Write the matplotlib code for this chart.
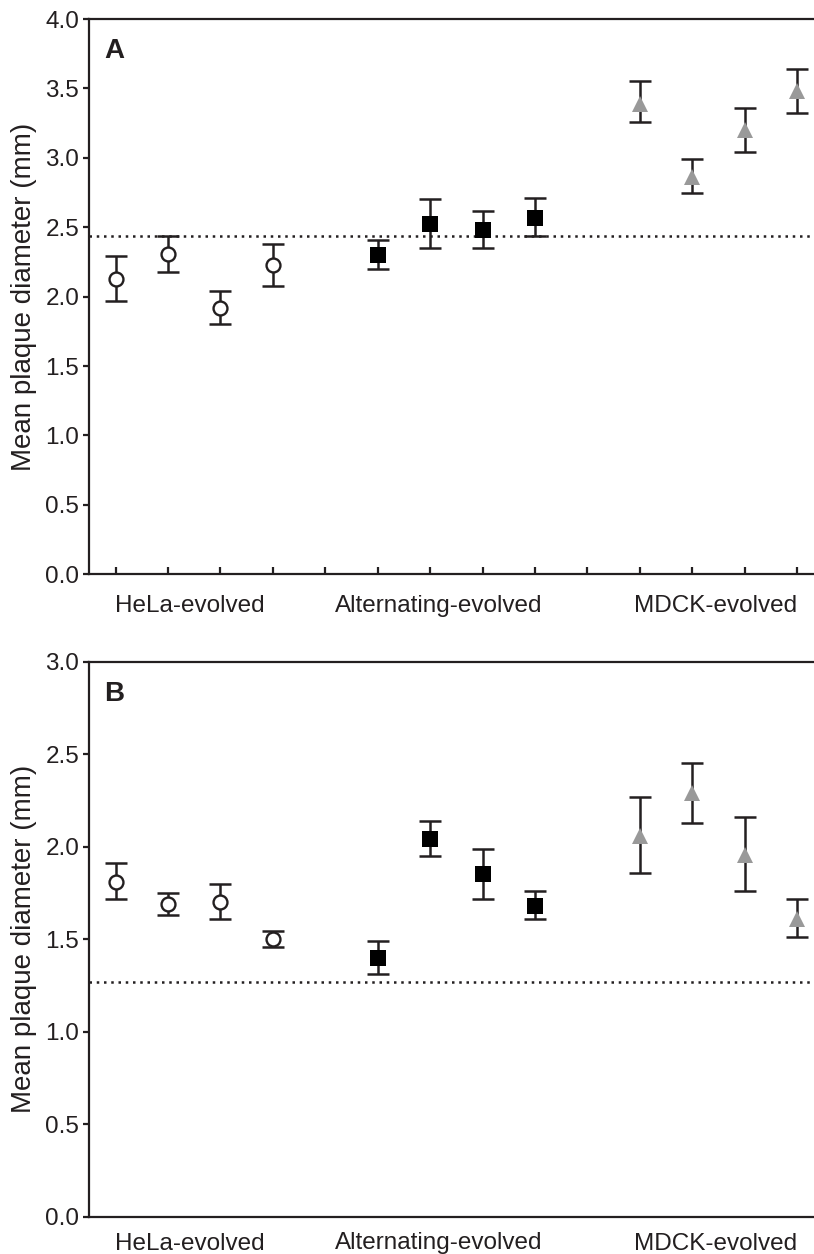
import matplotlib
matplotlib.use("Agg")
import matplotlib.pyplot as plt
import numpy as np

plt.rcParams['font.family'] = ['Liberation Sans', 'DejaVu Sans']

# ---------------- data ----------------
groups = ["HeLa-evolved", "Alternating-evolved", "MDCK-evolved"]
hela_pos = [1, 2, 3, 4]
alt_pos = [6, 7, 8, 9]
mdck_pos = [11, 12, 13, 14]

# Panel A
a_hela_mean = [2.13, 2.31, 1.92, 2.23]
a_hela_hi = [2.29, 2.44, 2.04, 2.38]
a_hela_lo = [1.97, 2.18, 1.80, 2.08]
a_alt_mean = [2.30, 2.52, 2.48, 2.57]
a_alt_hi = [2.41, 2.70, 2.62, 2.71]
a_alt_lo = [2.20, 2.35, 2.35, 2.44]
a_mdck_mean = [3.39, 2.86, 3.20, 3.48]
a_mdck_hi = [3.55, 2.99, 3.36, 3.64]
a_mdck_lo = [3.26, 2.75, 3.04, 3.32]
a_ref = 2.435

# Panel B
b_hela_mean = [1.81, 1.69, 1.70, 1.50]
b_hela_hi = [1.91, 1.75, 1.80, 1.545]
b_hela_lo = [1.72, 1.63, 1.61, 1.46]
b_alt_mean = [1.40, 2.04, 1.85, 1.68]
b_alt_hi = [1.49, 2.14, 1.99, 1.76]
b_alt_lo = [1.31, 1.95, 1.72, 1.61]
b_mdck_mean = [2.06, 2.29, 1.955, 1.61]
b_mdck_hi = [2.27, 2.45, 2.16, 1.72]
b_mdck_lo = [1.86, 2.13, 1.76, 1.51]
b_ref = 1.27

yticks_a = [0.0, 0.5, 1.0, 1.5, 2.0, 2.5, 3.0, 3.5, 4.0]
yticks_b = [0.0, 0.5, 1.0, 1.5, 2.0, 2.5, 3.0]
group_label_x = [2.42, 7.16, 12.45]

# ---------------- drawing ----------------
W, H = 814, 1254
fig = plt.figure(figsize=(W / 100, H / 100), dpi=100)
ink = '#231f20'
FS = 17.5

def px_axes(left, top, right, bottom):
    return fig.add_axes([left / W, 1 - bottom / H, (right - left) / W, (bottom - top) / H])

axA = px_axes(89, 19, 814, 574.3)
axB = px_axes(89, 661.7, 814, 1216.7)

def draw_series(ax, pos, mean, hi, lo, marker, face, ms):
    mean = np.array(mean); hi = np.array(hi); lo = np.array(lo)
    ax.errorbar(pos, mean, yerr=[mean - lo, hi - mean], fmt='none',
                ecolor=ink, elinewidth=1.8, capsize=8.2, capthick=1.8, zorder=3)
    ax.plot(pos, mean, linestyle='none', marker=marker, markersize=ms,
            markerfacecolor=face, markeredgecolor=ink if face == 'white' else face,
            markeredgewidth=1.7 if face == 'white' else 0, zorder=4)

def style(ax, ylim, yticks, xticks_on, letter, ref, label_y_px):
    ax.set_xlim(0.491, 14.324)
    ax.set_ylim(*ylim)
    ax.set_yticks(yticks)
    ax.set_yticklabels([f"{t:.1f}" for t in yticks], fontsize=FS, color=ink)
    for s in ['left', 'bottom', 'top']:
        ax.spines[s].set_linewidth(1.6)
        ax.spines[s].set_color(ink)
    ax.spines['right'].set_visible(False)
    ax.tick_params(axis='y', direction='out', length=4, width=1.6, color=ink, pad=3)
    if xticks_on:
        ax.set_xticks(list(range(1, 15)))
        ax.tick_params(axis='x', direction='in', length=5, width=1.6, color=ink, labelbottom=False)
    else:
        ax.set_xticks([])
    ax.axhline(ref, color=ink, linewidth=1.8, linestyle=(0, (1, 1.9)), zorder=2)
    for x, g in zip(group_label_x, groups):
        ax.text(x, 1 - label_y_px / H, g,
                transform=matplotlib.transforms.blended_transform_factory(ax.transData, fig.transFigure),
                ha='center', va='center_baseline', fontsize=FS, color=ink)
    ax.text(0.021, 0.965, letter, transform=ax.transAxes, ha='left', va='top',
            fontsize=20, fontweight='bold', color=ink)
    ax.set_ylabel("Mean plaque diameter (mm)", fontsize=20, color=ink, labelpad=6)

for ax, data, ylim, yt, xt, letter, ref, ly in [
    (axA, [(a_hela_mean, a_hela_hi, a_hela_lo), (a_alt_mean, a_alt_hi, a_alt_lo), (a_mdck_mean, a_mdck_hi, a_mdck_lo)],
     (0, 4.0), yticks_a, True, 'A', a_ref, 604),
    (axB, [(b_hela_mean, b_hela_hi, b_hela_lo), (b_alt_mean, b_alt_hi, b_alt_lo), (b_mdck_mean, b_mdck_hi, b_mdck_lo)],
     (0, 3.0), yticks_b, False, 'B', b_ref, 1241)]:
    style(ax, ylim, yt, xt, letter, ref, ly)
    draw_series(ax, hela_pos, *data[0], marker='o', face='white', ms=10)
    draw_series(ax, alt_pos, *data[1], marker='s', face='black', ms=11)
    draw_series(ax, mdck_pos, *data[2], marker='^', face='#999999', ms=12)
    for sp in ax.spines.values():
        sp.set_clip_on(False)

fig.savefig("out.png", dpi=100)
